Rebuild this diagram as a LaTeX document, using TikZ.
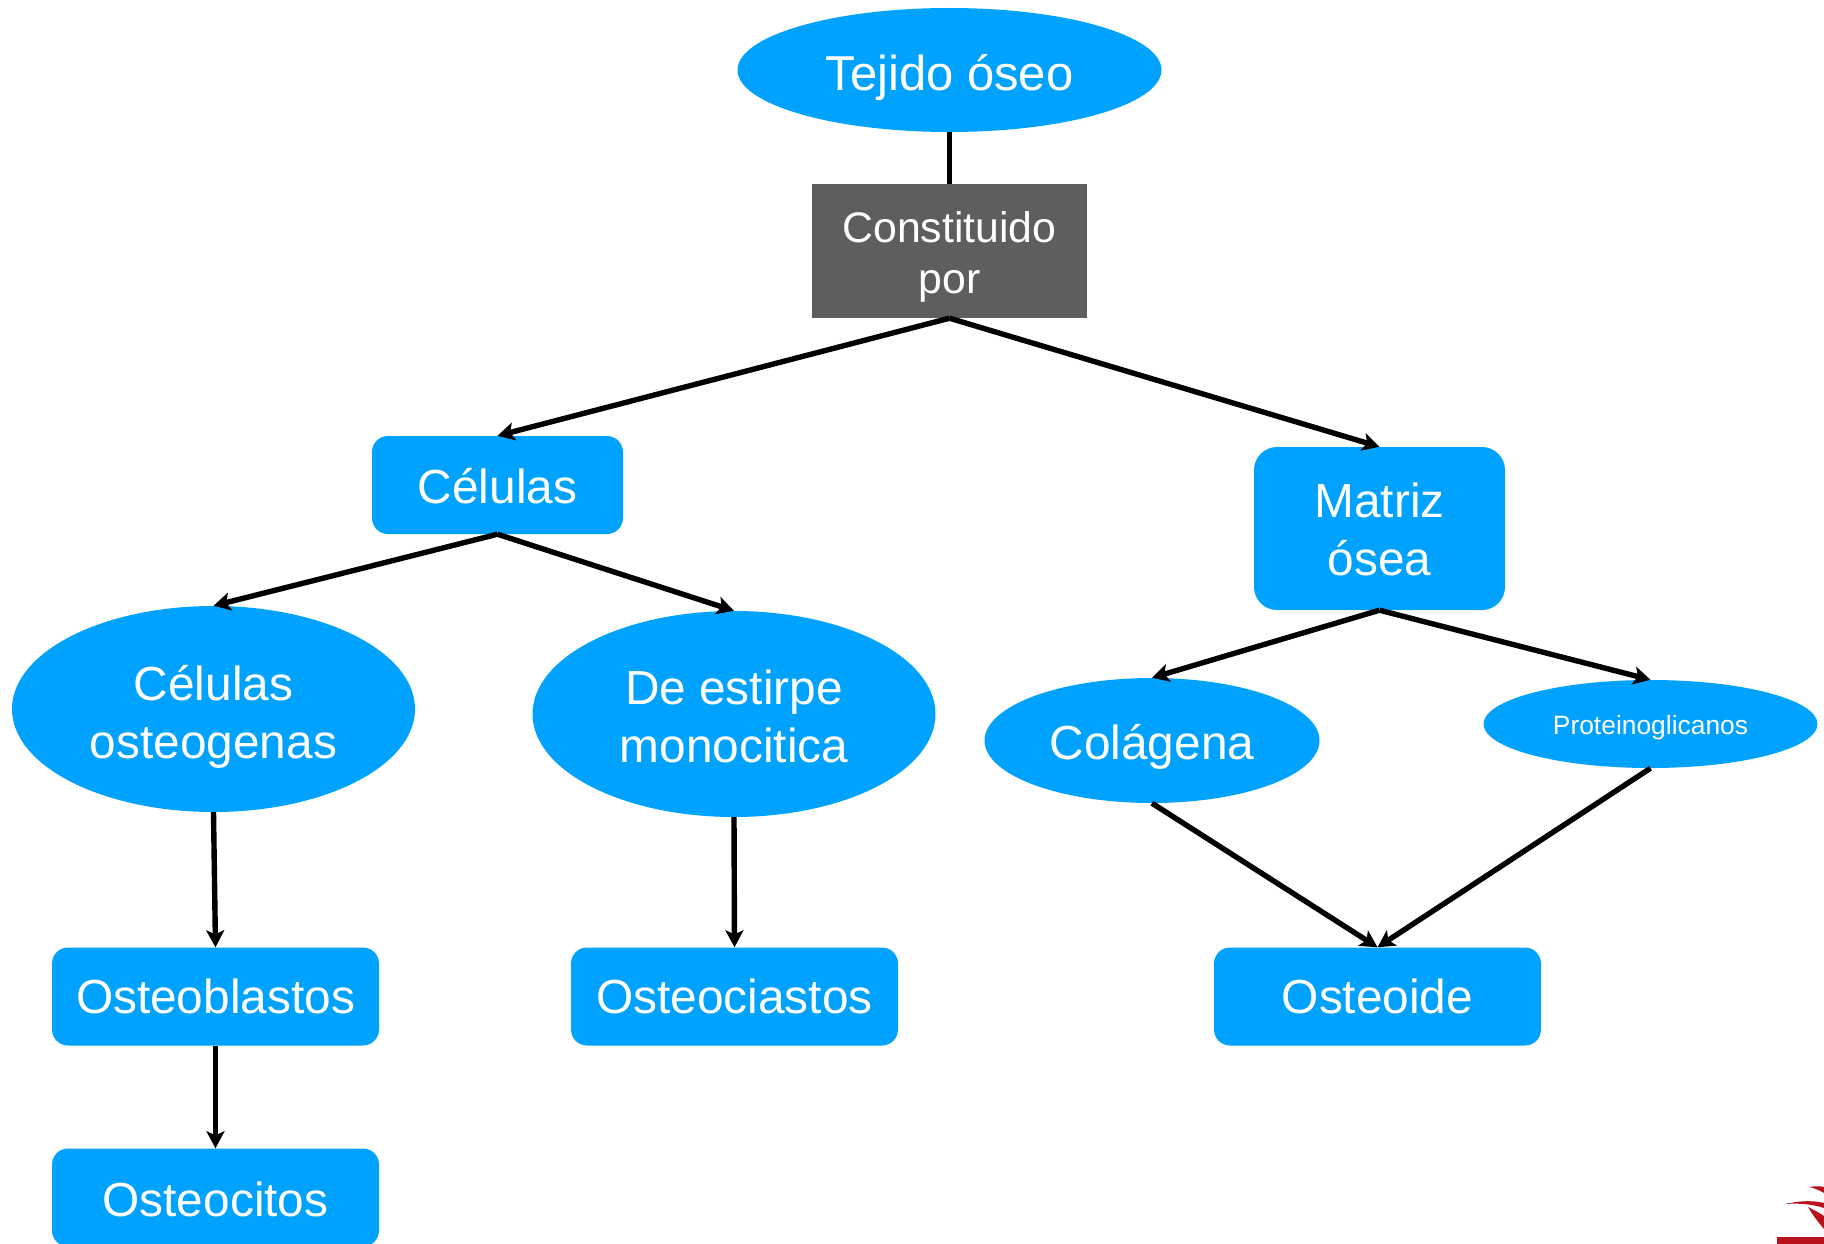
\documentclass[tikz,border=0pt]{standalone}
\usepackage{fontspec}
\setmainfont{Liberation Sans}
\usetikzlibrary{shapes.geometric,arrows.meta}
\definecolor{nodeblue}{HTML}{00A2FF}
\definecolor{darkbox}{HTML}{5E5E5E}
\definecolor{logored}{HTML}{B8111C}
\newcommand{\nudged}[2]{\raisebox{-#1}[\height][\depth]{\begin{tabular}{@{}c@{}}#2\end{tabular}}}
\tikzset{
  base/.style={fill=nodeblue,text=white,inner sep=0pt,align=center,font=\fontsize{47.8}{58}\selectfont},
  oval/.style={base,ellipse},
  rbox/.style={base,rectangle,rounded corners=16pt},
  link/.style={draw=black,line width=5.4pt},
  arrow/.style={link,-{Stealth[length=17pt,width=18pt,inset=4pt]}}
}
\begin{document}
\begin{tikzpicture}[x=1pt,y=-1pt]
\useasboundingbox (0,0) rectangle (1824,1244);
\clip (0,0) rectangle (1824,1244);
\node[oval,minimum width=424pt,minimum height=124pt,font=\fontsize{49}{58}\selectfont] (tejido) at (949.5,70) {\nudged{8.5pt}{Tejido óseo}};
\node[base,rectangle,fill=darkbox,minimum width=275pt,minimum height=134pt,font=\fontsize{42.8}{51}\selectfont] (const) at (949.5,251) {\nudged{7pt}{Constituido\\por}};
\node[rbox,minimum width=251pt,minimum height=98pt] (cel) at (497.5,485) {\nudged{7pt}{Células}};
\node[rbox,rounded corners=23pt,minimum width=251pt,minimum height=163pt] (matriz) at (1379.5,528.5) {\nudged{6.6pt}{Matriz\\ósea}};
\node[oval,minimum width=403pt,minimum height=206pt] (osteog) at (213.5,709) {\nudged{8.5pt}{Células\\osteogenas}};
\node[oval,minimum width=403pt,minimum height=206pt] (estirpe) at (734,714) {\nudged{7.6pt}{De estirpe\\monocitica}};
\node[oval,minimum width=335pt,minimum height=125pt] (colag) at (1152,740.5) {\nudged{7pt}{Colágena}};
\node[oval,minimum width=334pt,minimum height=88pt,font=\fontsize{26.4}{32}\selectfont] (prot) at (1650.5,724) {\nudged{4.5pt}{Proteinoglicanos}};
\node[rbox,minimum width=327pt,minimum height=98pt] (blast) at (215.5,996.5) {\nudged{5.6pt}{Osteoblastos}};
\node[rbox,minimum width=327pt,minimum height=98pt] (clast) at (734.5,996.5) {\nudged{5.6pt}{Osteociastos}};
\node[rbox,minimum width=327pt,minimum height=98pt] (oide) at (1377.5,996.5) {\nudged{5.6pt}{Osteoide}};
\node[rbox,minimum width=327pt,minimum height=98pt] (cito) at (215.5,1197.5) {\nudged{7.6pt}{Osteocitos}};
\draw[link] (tejido.south) -- (const.north);
\draw[arrow] (const.south) -- (cel.north);
\draw[arrow] (const.south) -- (matriz.north);
\draw[arrow] (cel.south) -- (osteog.north);
\draw[arrow] (cel.south) -- (estirpe.north);
\draw[arrow] (matriz.south) -- (colag.north);
\draw[arrow] (matriz.south) -- (prot.north);
\draw[arrow] (osteog.south) -- (blast.north);
\draw[arrow] (estirpe.south) -- (clast.north);
\draw[arrow] (colag.south) -- (oide.north);
\draw[arrow] (prot.south) -- (oide.north);
\draw[arrow] (blast.south) -- (cito.north);
% logo fragment
\fill[logored] (1777,1237) rectangle (1824,1244);
\fill[logored] (1785,1204) .. controls (1798,1201) and (1812,1200) .. (1824,1203) -- (1824,1208) .. controls (1812,1204) and (1798,1203) .. (1785,1204) -- cycle;
\fill[logored] (1808,1207) .. controls (1814,1210) and (1820,1213) .. (1824,1216) -- (1824,1229) .. controls (1818,1222) and (1812,1214) .. (1808,1207) -- cycle;
\fill[logored] (1809,1187) .. controls (1815,1186) and (1820,1186) .. (1824,1187) -- (1824,1193) .. controls (1819,1190) and (1814,1188) .. (1809,1187) -- cycle;
\end{tikzpicture}
\end{document}
